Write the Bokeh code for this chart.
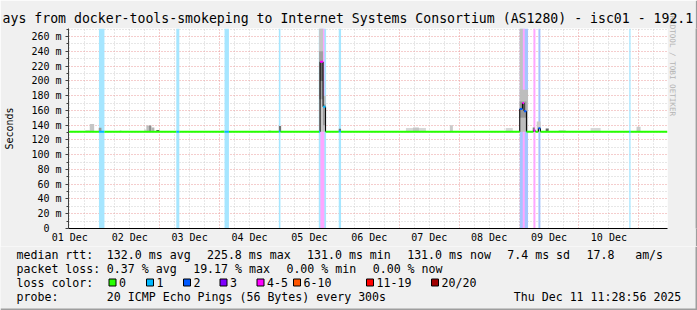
from bokeh.plotting import figure
from bokeh.layouts import column, row
from bokeh.models import Range1d, FixedTicker, LinearAxis, ColumnDataSource, Title
from bokeh.core.properties import value
from bokeh.embed import file_html
from bokeh.resources import INLINE

# ---------------- data (time in hours since 2025-12-01 00:00) ----------------
t_start = 11.48          # Mon Dec 01 11:28:56
t_end = 251.48           # Thu Dec 11 11:28:56
y_max = 270.96           # ms

day_labels = ["01 Dec", "02 Dec", "03 Dec", "04 Dec", "05 Dec",
              "06 Dec", "07 Dec", "08 Dec", "09 Dec", "10 Dec"]
label_hours = [12, 36, 60, 84, 108, 132, 156, 180, 204, 228]
midnight_hours = [24, 48, 72, 96, 120, 144, 168, 192, 216, 240]
six_hours = [h for h in range(12, 252, 6) if h % 24 != 0]

y_ticks = [0, 20, 40, 60, 80, 100, 120, 140, 160, 180, 200, 220, 240, 260]
y_minor = [10, 30, 50, 70, 90, 110, 130, 150, 170, 190, 210, 230, 250, 270]
y_tick_labels = ["0\u00a0\u00a0", "20 m", "40 m", "60 m", "80 m", "100 m", "120 m",
                 "140 m", "160 m", "180 m", "200 m", "220 m", "240 m", "260 m"]

loss_names = ["0", "1", "2", "3", "4-5", "6-10", "11-19", "20/20"]
loss_colors = ["#26ff00", "#00b8ff", "#0059ff", "#7e00ff",
               "#ff00ff", "#ff5500", "#ff0000", "#a00000"]

# median rtt segments: start, end, median (ms), lost pings (of 20)
med_start = [11.48, 23.68, 25.88, 54.68, 55.88, 74.00, 75.76, 95.76, 96.40,
             111.88, 112.28, 113.48, 114.48, 119.76, 120.68, 192.28, 193.35,
             194.00, 194.95, 197.76, 198.56, 199.76, 200.56, 236.16, 236.68]
med_end = med_start[1:] + [251.48]
med_ms = [131.0, 131.0, 131.0, 131.0, 131.0, 131.0, 131.0, 131.5, 131.0,
          131.0, 225.8, 165.0, 131.0, 131.5, 131.0, 162.0, 170.0,
          159.0, 131.0, 132.7, 131.0, 135.8, 131.0, 131.0, 131.0]
med_loss = [0, 1, 0, 1, 0, 1, 0, 1, 0,
            1, 5, 1, 0, 1, 0, 2, 5,
            2, 0, 5, 0, 2, 0, 1, 0]

# loss background bands: start, end, lost pings
band_start = [23.68, 54.68, 74.00, 95.76, 111.76, 112.40, 119.76, 192.28, 193.48,
              197.76, 199.76, 236.16]
band_end = [25.88, 55.88, 75.76, 96.40, 114.68, 114.00, 120.68, 195.60, 194.28,
            198.56, 200.56, 236.68]
band_loss = [1, 1, 1, 1, 1, 5, 1, 2, 5, 5, 2, 1]

# smoke (ping spread): start, end, low ms, high ms, density 0..1
smoke_start = [18.28, 20.00, 23.60, 32.00, 41.76, 42.68, 43.76, 44.68, 46.68,
               72.68, 91.48, 95.76, 111.88, 111.88, 112.28, 113.48, 113.48,
               119.76, 146.68, 149.48, 164.28, 186.68, 192.28, 192.28, 192.28,
               197.48, 199.08, 202.68, 207.88, 220.68, 239.08]
smoke_end = [20.00, 21.76, 24.68, 32.68, 42.68, 43.76, 44.68, 45.88, 47.88,
             73.88, 92.68, 96.68, 113.48, 113.48, 113.48, 114.48, 114.48,
             120.68, 154.68, 151.88, 165.48, 189.48, 193.48, 195.60, 194.95,
             198.28, 200.68, 203.88, 210.68, 224.68, 240.68]
smoke_lo = [131, 131, 131, 131, 131, 131, 131, 131, 131,
            131, 131, 131, 131, 175, 200, 131, 140,
            131, 131, 131, 131, 131, 131, 131, 150,
            131, 131, 131, 131, 131, 131]
smoke_hi = [133.5, 141.5, 136.5, 133, 134, 139.5, 139.5, 137, 133.5,
            133, 133, 139, 271, 240, 226, 180, 168,
            135, 136, 137, 140, 136, 271, 188, 172,
            137, 145, 135.5, 133.5, 136, 138]
smoke_density = [0.10, 0.20, 0.45, 0.10, 0.10, 0.25, 0.50, 0.30, 0.80,
                 0.10, 0.10, 0.65, 0.20, 0.40, 0.70, 0.25, 0.45,
                 0.65, 0.10, 0.20, 0.18, 0.10, 0.22, 0.25, 0.45,
                 0.60, 0.18, 0.70, 0.10, 0.10, 0.18]

title_text = "ays from docker-tools-smokeping to Internet Systems Consortium (AS1280) - isc01 - 192.1"
y_axis_title = "Seconds"
credit_text = "RRDTOOL / TOBI OETIKER"
legend_rows = [
    ["median rtt:", "132.0 ms avg", "225.8 ms max", "131.0 ms min",
     "131.0 ms now", "7.4 ms sd", "17.8", "am/s"],
    ["packet loss:", "0.37 % avg", "19.17 % max", "0.00 % min", "0.00 % now"],
    ["loss color:"],
    ["probe:", "20 ICMP Echo Pings (56 Bytes) every 300s",
     "Thu Dec 11 11:28:56 2025"],
]

# ---------------- layout constants (pixels) ----------------
W, H = 697, 310
L, T = 67, 28          # frame left / top
FW, FH = 600, 200      # frame size
H1 = 246               # height of the chart part
MONO = "DejaVu Sans Mono"
legend_x = [
    [16, 106.35, 206.45, 306.55, 406.65, 506.75, 586.0, 634.65],
    [16, 106.35, 192.65, 285.9, 372.2],
    [16],
    [16, 106.35, 513.3],
]
legend_y = [254.3, 268.3, 282.3, 296.0]
swatch_x = [108, 145.5, 182.5, 219, 256, 292.5, 365.5, 430.5]


def lighten(c, a=0.35):
    r, g, b = int(c[1:3], 16), int(c[3:5], 16), int(c[5:7], 16)
    f = lambda v: int(round(v * a + 255 * (1 - a)))
    return "#%02x%02x%02x" % (f(r), f(g), f(b))


def loss_idx(n):
    if n <= 3:
        return n
    if n <= 5:
        return 4
    if n <= 10:
        return 5
    if n <= 19:
        return 6
    return 7


def grey(d):
    v = int(round(235 - d * 185))
    return "#%02x%02x%02x" % (v, v, v)


# ---------------- main chart ----------------
p = figure(width=W - 2, height=H1, output_backend="svg", toolbar_location=None,
           x_range=Range1d(t_start, t_end), y_range=Range1d(0, y_max),
           min_border_left=L, min_border_right=W - 2 - L - FW,
           min_border_top=T, min_border_bottom=H1 - T - FH)
p.background_fill_color = "white"
p.border_fill_color = "#f0f0f0"
p.outline_line_color = None

# title (wider than the image in the original; visible part kept)
p.title.text = title_text
p.title.align = "left"
p.title.offset = -L + 1
p.title.text_font = MONO
p.title.text_font_size = "13.2px"
p.title.text_font_style = "normal"
p.title.text_color = "black"
p.title.vertical_align = "bottom"
p.title.standoff = 6

# grids
p.xgrid.ticker = FixedTicker(ticks=midnight_hours, minor_ticks=six_hours)
p.ygrid.ticker = FixedTicker(ticks=y_ticks[1:], minor_ticks=y_minor)
for g in (p.xgrid[0], p.ygrid[0]):
    g.grid_line_color = "#eb9a9a"
    g.grid_line_dash = "1 2"
    g.grid_line_width = 1
    g.minor_grid_line_color = "#cfcfcf"
    g.minor_grid_line_dash = "1 2"

# x axis
xa = p.xaxis[0]
xa.ticker = FixedTicker(ticks=label_hours)
xa.major_label_overrides = {h: s for h, s in zip(label_hours, day_labels)}
xa.axis_line_color = "black"
xa.major_tick_line_color = None
xa.minor_tick_line_color = None
xa.major_tick_out = 0
xa.major_tick_in = 0
xa.minor_tick_out = 0
xa.major_label_standoff = 3
xa.major_label_text_font = MONO
xa.major_label_text_font_size = "10px"
xa.major_label_text_color = "black"

# y axis
ya = p.yaxis[0]
ya.ticker = FixedTicker(ticks=y_ticks, minor_ticks=y_minor)
ya.major_label_overrides = {v: s for v, s in zip(y_ticks, y_tick_labels)}
ya.axis_line_color = "#404040"
ya.major_tick_line_color = "#404040"
ya.major_tick_out = 3
ya.major_tick_in = 0
ya.minor_tick_line_color = "#404040"
ya.minor_tick_out = 2
ya.minor_tick_in = 0
ya.major_label_standoff = 4
ya.major_label_text_font = MONO
ya.major_label_text_font_size = "10px"
ya.major_label_text_color = "black"

# "Seconds" axis title on a tick-less axis
ya2 = LinearAxis(ticker=FixedTicker(ticks=[]), axis_label=y_axis_title)
ya2.axis_line_color = None
ya2.major_tick_out = 0
ya2.major_tick_in = 0
ya2.minor_tick_out = 0
ya2.minor_tick_in = 0
ya2.major_label_standoff = 0
ya2.axis_label_standoff = 14
ya2.axis_label_text_font = MONO
ya2.axis_label_text_font_size = "10px"
ya2.axis_label_text_font_style = "normal"
ya2.axis_label_text_color = "black"
p.add_layout(ya2, "left")

# empty spacer axis on the right, then the rrdtool credit as a side title
ra = LinearAxis(ticker=FixedTicker(ticks=[]))
ra.axis_line_color = None
ra.major_tick_line_color = None
ra.minor_tick_line_color = None
ra.major_tick_out = 16
ra.major_tick_in = 0
ra.minor_tick_out = 0
ra.minor_tick_in = 0
ra.major_label_standoff = 0
p.add_layout(ra, "right")
p.add_layout(Title(text=credit_text, align="left", offset=-13,
                   vertical_align="bottom", standoff=0, text_font=MONO,
                   text_font_size="7.6px", text_font_style="normal",
                   text_color="#b4b4b4"), "right")

# loss bands
bsrc = ColumnDataSource(dict(
    left=band_start, right=band_end, bottom=[0] * len(band_start),
    top=[y_max] * len(band_start),
    color=[lighten(loss_colors[loss_idx(n)]) for n in band_loss]))
p.quad(left="left", right="right", bottom="bottom", top="top", source=bsrc,
       fill_color="color", line_color=None)

# smoke
ssrc = ColumnDataSource(dict(
    left=smoke_start, right=smoke_end, bottom=smoke_lo,
    top=[min(v, y_max) for v in smoke_hi],
    color=[grey(d) for d in smoke_density]))
p.quad(left="left", right="right", bottom="bottom", top="top", source=ssrc,
       fill_color="color", line_color=None)

# median: black transitions
vx, vy0, vy1 = [], [], []
for i in range(len(med_ms) - 1):
    if med_ms[i] != med_ms[i + 1]:
        vx.append(med_end[i])
        vy0.append(med_ms[i])
        vy1.append(med_ms[i + 1])
p.segment(x0=vx, y0=vy0, x1=vx, y1=vy1, line_color="black", line_width=1)

# median: colored by loss
msrc = ColumnDataSource(dict(
    x0=med_start, x1=med_end, y=med_ms,
    color=[loss_colors[loss_idx(n)] for n in med_loss]))
p.segment(x0="x0", y0="y", x1="x1", y1="y", source=msrc,
          line_color="color", line_width=2)

# right shade strip of the image frame
strip = figure(width=2, height=H1, output_backend="svg", toolbar_location=None,
               x_axis_type=None, y_axis_type=None, min_border=0,
               x_range=Range1d(0, 1), y_range=Range1d(0, 1))
strip.title = None
strip.background_fill_color = "#9e9e9e"
strip.border_fill_color = "#9e9e9e"
strip.outline_line_color = None
strip.grid.visible = False

# ---------------- legend part (pixel coordinates of the image) ----------------
q = figure(width=W, height=H - H1, output_backend="svg", toolbar_location=None,
           x_axis_type=None, y_axis_type=None, min_border=0,
           x_range=Range1d(0, W), y_range=Range1d(H, H1))
q.title = None
q.background_fill_color = "#f0f0f0"
q.border_fill_color = "#f0f0f0"
q.outline_line_color = None
q.grid.visible = False

tx, ty, tt = [], [], []
for texts, xs, yy in zip(legend_rows, legend_x, legend_y):
    for s, x in zip(texts, xs):
        tx.append(x)
        ty.append(yy)
        tt.append(s)
for name, sx in zip(loss_names, swatch_x):
    tx.append(sx + 10.5)
    ty.append(legend_y[2])
    tt.append(name)
q.text(x=tx, y=ty, text=tt, text_font=value(MONO), text_font_size=value("11.6px"),
       text_baseline="middle", text_align="left", text_color="black")

q.quad(left=[sx + 0.5 for sx in swatch_x], right=[sx + 7.5 for sx in swatch_x],
       top=[278.5] * len(swatch_x), bottom=[285.5] * len(swatch_x),
       fill_color=loss_colors, line_color="black", line_width=1)

# bottom / right shade of the image frame
q.quad(left=[0, W - 2], right=[W, W], top=[H - 2, H1], bottom=[H, H],
       fill_color="#9e9e9e", line_color=None)

layout = column(row(p, strip, spacing=0), q, spacing=0)
open("out.html", "w").write(file_html(layout, INLINE))
